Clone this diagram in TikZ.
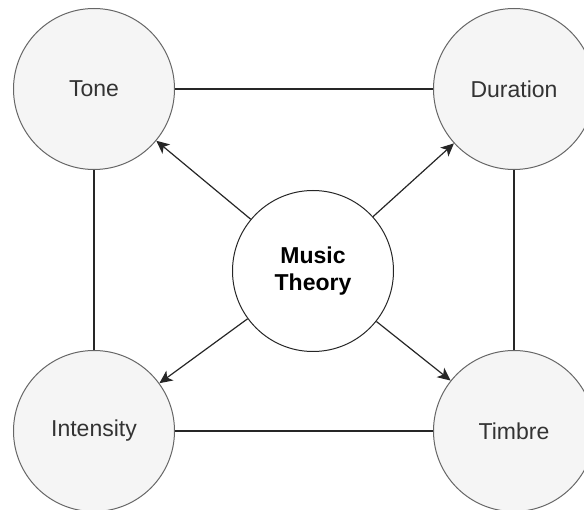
\documentclass[tikz,border=0pt]{standalone}
\usepackage{fontspec}
\setmainfont{Liberation Sans}
\usepackage{tikz}
\usetikzlibrary{arrows.meta}
\definecolor{aspectfill}{HTML}{F5F5F5}
\definecolor{aspectline}{HTML}{666666}
\definecolor{aspecttext}{HTML}{333333}
\begin{document}
\begin{tikzpicture}[
  x=1pt, y=-1pt,
  aspect/.style={circle, draw=aspectline, fill=aspectfill, text=aspecttext,
    line width=1pt, minimum size=161pt, inner sep=0pt,
    font=\fontsize{23}{27.6}\selectfont},
  theory/.style={circle, draw=black!85, fill=white, line width=1pt,
    minimum size=161pt, inner sep=0pt, align=center,
    font=\fontsize{23}{27.6}\selectfont\bfseries},
  link/.style={draw=black!85, line width=1.2pt},
  pointer/.style={link, -{Stealth[length=13pt, width=12pt, inset=3.5pt]}},
]
\useasboundingbox (0,0) rectangle (584,510);
\node[aspect] (tone) at (94,89) {Tone};
\node[aspect] (duration) at (514,89) {Duration};
\node[aspect] (intensity) at (94,431) {Intensity};
\node[aspect] (timbre) at (514,431) {Timbre};
\node[theory] (music) at (313,271) {Music\\Theory};
\draw[link] (tone) -- (duration);
\draw[link] (duration) -- (timbre);
\draw[link] (timbre) -- (intensity);
\draw[link] (intensity) -- (tone);
\draw[pointer] (music) -- (tone);
\draw[pointer] (music) -- (duration);
\draw[pointer] (music) -- (intensity);
\draw[pointer] (music) -- (timbre);
\end{tikzpicture}
\end{document}
